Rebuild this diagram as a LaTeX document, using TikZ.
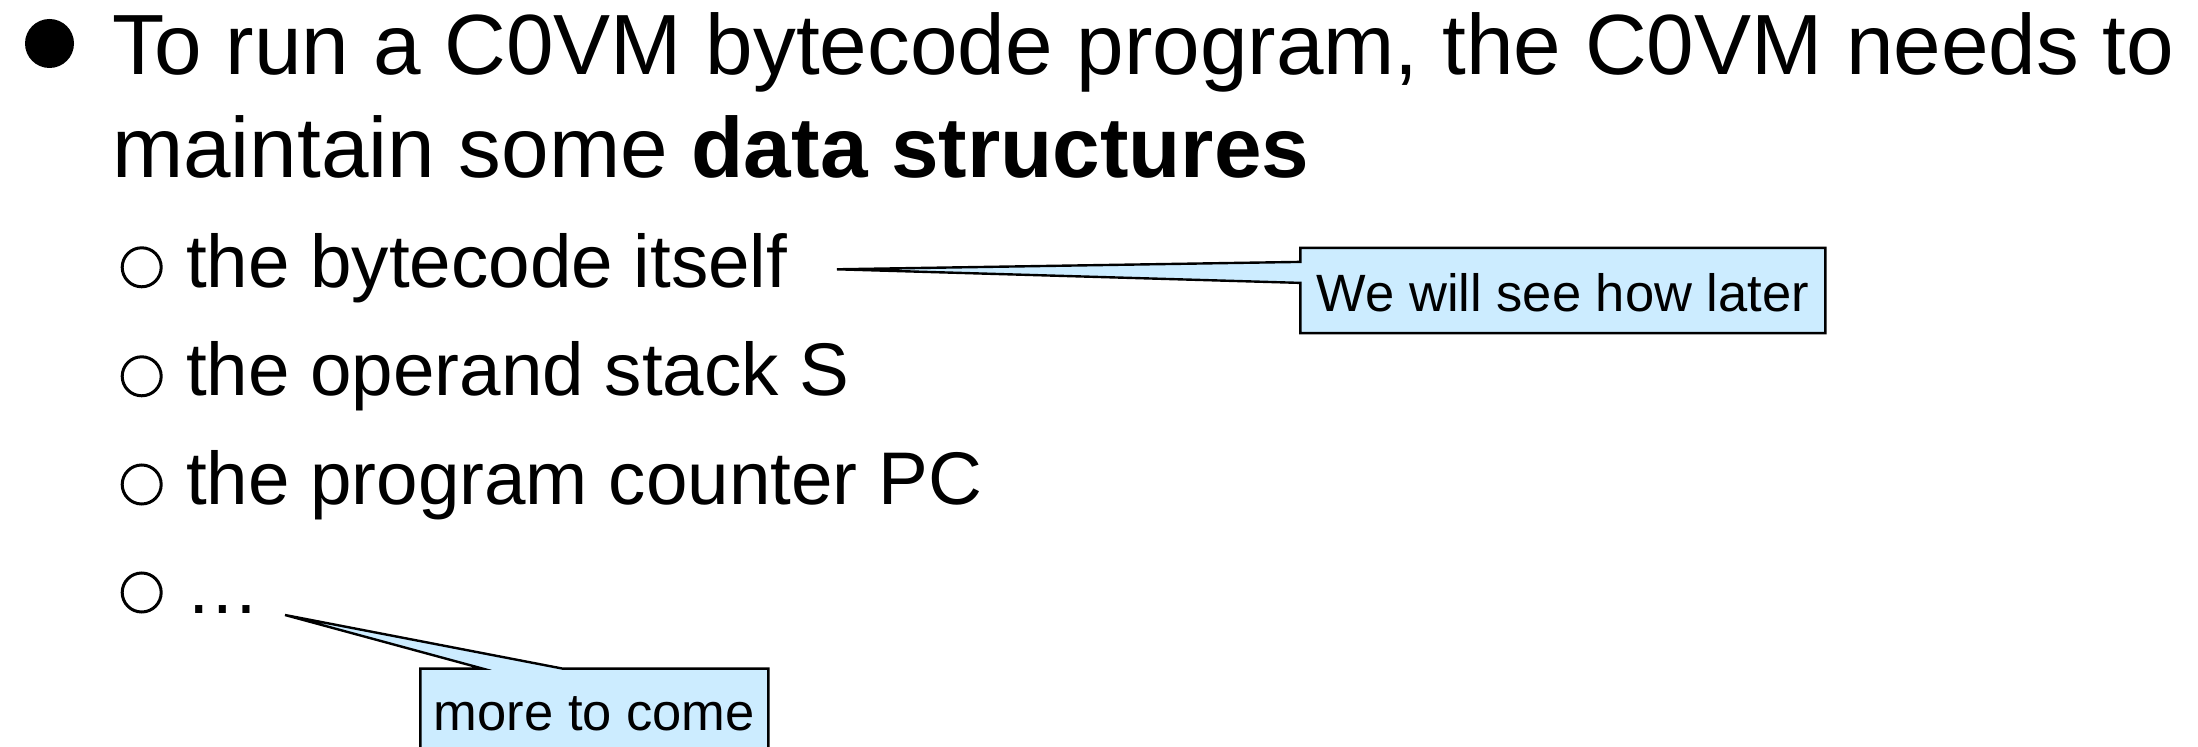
\documentclass[tikz,border=0pt]{standalone}
\usepackage{fontspec}
\setmainfont{Liberation Sans}
\usetikzlibrary{calc,backgrounds}
\definecolor{callfill}{RGB}{204,236,255}
\newcommand{\calltext}[1]{\raisebox{-1.2pt}[\height][\depth]{#1}}
\tikzset{
  txt/.style={anchor=base west, inner sep=0pt, outer sep=0pt},
  mainsize/.style={font=\fontsize{42.75pt}{51pt}\selectfont},
  subsize/.style={font=\fontsize{37.3pt}{44pt}\selectfont},
  bigdot/.style={circle, fill=black, inner sep=0pt, minimum size=24.5pt},
  ring/.style={circle, draw=black, line width=1.5pt, inner sep=0pt, minimum size=19.5pt},
  callbox/.style={rectangle, inner sep=0pt, font=\fontsize{26.25pt}{30pt}\selectfont},
  callshape/.style={draw=black, fill=callfill, line width=1.2pt, line join=miter},
}
\begin{document}
\begin{tikzpicture}[x=0.5pt,y=-0.5pt]
\useasboundingbox (0,0) rectangle (2198,747);
% main bullet
\node[bigdot] (b0) at (49.5,43.5) {};
\node[txt, mainsize] (l1) at (112,75) {To run a C0VM bytecode program, the C0VM needs to};
\node[txt, mainsize] (l2) at (112,178) {maintain some \textbf{data structures}};
% sub bullets
\node[ring] (r1) at (141.7,267.3) {};
\node[ring] (r2) at (141.7,376.3) {};
\node[ring] (r3) at (141.7,484.5) {};
\node[ring] (r4) at (141.7,592.5) {};
\node[txt, subsize] (s1) at (186,287.3) {the bytecode itself};
\node[txt, subsize] (s2) at (186,395.5) {the operand stack S};
\node[txt, subsize] (s3) at (186,505) {the program counter PC};
\node[txt, subsize] (s4) at (185,613) {…};
% callout 1
\node[callbox, minimum width=262.15pt, minimum height=42.2pt] (c1) at (1562.85,290.5) {\calltext{We will see how later}};
\coordinate (t1) at (837,269.3);
% callout 2
\node[callbox, minimum width=173.65pt, minimum height=42.2pt] (c2) at (594.35,711.2) {\calltext{more to come}};
\coordinate (t2) at (285,615);
\begin{scope}[on background layer]
\draw[callshape] (t1) -- ($(c1.north west)+(0,14)$) |- (c1.north east) |- (c1.south west) -- ($(c1.north west)+(0,35)$) -- cycle;
\draw[callshape] (t2) -- ($(c2.north west)+(142.3,0)$) -| (c2.south east) -| (c2.north west) -- ($(c2.north west)+(62.3,0)$) -- cycle;
\end{scope}
\end{tikzpicture}
\end{document}
